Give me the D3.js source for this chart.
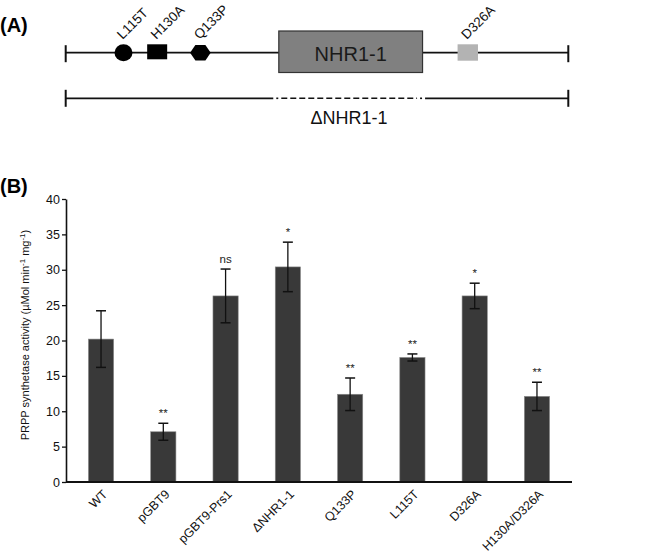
<!DOCTYPE html>
<html>
<head>
<meta charset="utf-8">
<script src="https://cdn.jsdelivr.net/npm/d3@7"></script>
<style>
  body { margin: 0; background: #fff; }
  svg { font-family: Arial, "Liberation Sans", sans-serif; }
</style>
</head>
<body>
<div id="chart-area"></div>
<script>
// Panel B data
var categories = ["WT", "pGBT9", "pGBT9-Prs1", "\u0394NHR1-1", "Q133P", "L115T", "D326A", "H130A/D326A"];
var means = [20.2, 7.1, 26.3, 30.4, 12.4, 17.6, 26.3, 12.1];
var errors = [4.0, 1.2, 3.8, 3.5, 2.3, 0.5, 1.8, 2.0];
var signif = ["", "**", "ns", "*", "**", "**", "*", "**"];
var yTicks = [0, 5, 10, 15, 20, 25, 30, 35, 40];

// Panel A schematic (positions in schematic units 0-100)
var mutNames = ["L115T", "H130A", "Q133P", "D326A"];
var mutShapes = ["circle", "square", "hexagon", "graysquare"];
var mutPos = [11.5, 18.2, 26.8, 80.0];
var domainName = "NHR1-1";
var domainSpan = [42.4, 71.0];
var deletionName = "\u0394NHR1-1";
var deletionSpan = [41.3, 71.5];

var W = 649, H = 557;
var svg = d3.select("#chart-area").append("svg")
    .attr("width", W)
    .attr("height", H);

// ---------- Panel A ----------
var sx = d3.scaleLinear().domain([0, 100]).range([65.7, 568.3]);
var lineY = 52.7, delY = 98.3;

svg.append("text")
    .attr("x", 0).attr("y", 32)
    .style("font-size", "20px").style("font-weight", "bold")
    .text("(A)");

var gA = svg.append("g");

// protein line
gA.append("line")
    .attr("x1", sx(0)).attr("x2", sx(100))
    .attr("y1", lineY).attr("y2", lineY)
    .attr("stroke", "#111").attr("stroke-width", 1.8);
[0, 100].forEach(function(v) {
    gA.append("line")
        .attr("x1", sx(v)).attr("x2", sx(v))
        .attr("y1", lineY - 7.5).attr("y2", lineY + 9.5)
        .attr("stroke", "#111").attr("stroke-width", 2);
});

// NHR1-1 box
gA.append("rect")
    .attr("x", sx(domainSpan[0]))
    .attr("y", 31)
    .attr("width", sx(domainSpan[1]) - sx(domainSpan[0]))
    .attr("height", 41.5)
    .attr("fill", "#808080")
    .attr("stroke", "#333").attr("stroke-width", 1.2);
gA.append("text")
    .attr("x", (sx(domainSpan[0]) + sx(domainSpan[1])) / 2)
    .attr("y", 60.5)
    .attr("text-anchor", "middle")
    .style("font-size", "20px")
    .attr("fill", "#1a1a1a")
    .text(domainName);

// mutation markers
mutPos.forEach(function(p, i) {
    var cx = sx(p), shape = mutShapes[i];
    if (shape === "circle") {
        gA.append("ellipse").attr("cx", cx).attr("cy", lineY)
            .attr("rx", 9).attr("ry", 8.5).attr("fill", "#000");
    } else if (shape === "square") {
        gA.append("rect").attr("x", cx - 10).attr("y", 44.3)
            .attr("width", 20).attr("height", 15).attr("fill", "#000");
    } else if (shape === "hexagon") {
        var pts = [[-10.3, 0], [-5, -7.8], [5, -7.8], [10.3, 0], [5, 7.8], [-5, 7.8]]
            .map(function(d) { return (cx + d[0]) + "," + (lineY + d[1]); }).join(" ");
        gA.append("polygon").attr("points", pts).attr("fill", "#000");
    } else {
        gA.append("rect").attr("x", cx - 10.2).attr("y", 44.3)
            .attr("width", 20.4).attr("height", 16.4).attr("fill", "#b3b3b3");
    }
    gA.append("text")
        .attr("transform", "translate(" + (cx - 1) + "," + 40 + ") rotate(-45)")
        .style("font-size", "13.5px")
        .attr("fill", "#111")
        .text(mutNames[i]);
});

// deletion construct line: solid ends, dashed deleted part with a dot at each end
var d0 = sx(deletionSpan[0]), d1 = sx(deletionSpan[1]);
gA.append("line")
    .attr("x1", sx(0)).attr("x2", d0)
    .attr("y1", delY).attr("y2", delY)
    .attr("stroke", "#111").attr("stroke-width", 1.8);
gA.append("line")
    .attr("x1", d0 + 3).attr("x2", d0 + 5)
    .attr("y1", delY).attr("y2", delY)
    .attr("stroke", "#111").attr("stroke-width", 1.6);
gA.append("line")
    .attr("x1", d0 + 8).attr("x2", d1 - 8)
    .attr("y1", delY).attr("y2", delY)
    .attr("stroke", "#111").attr("stroke-width", 1.6)
    .attr("stroke-dasharray", "6,3");
gA.append("line")
    .attr("x1", d1 - 5).attr("x2", d1 - 3)
    .attr("y1", delY).attr("y2", delY)
    .attr("stroke", "#111").attr("stroke-width", 1.6);
gA.append("line")
    .attr("x1", d1).attr("x2", sx(100))
    .attr("y1", delY).attr("y2", delY)
    .attr("stroke", "#111").attr("stroke-width", 1.8);
[0, 100].forEach(function(v) {
    gA.append("line")
        .attr("x1", sx(v)).attr("x2", sx(v))
        .attr("y1", delY - 8.5).attr("y2", delY + 8.5)
        .attr("stroke", "#111").attr("stroke-width", 2);
});
gA.append("text")
    .attr("x", 349)
    .attr("y", 124)
    .attr("text-anchor", "middle")
    .style("font-size", "18px")
    .attr("fill", "#111")
    .text(deletionName);

// ---------- Panel B ----------
svg.append("text")
    .attr("x", 0).attr("y", 193)
    .style("font-size", "20px").style("font-weight", "bold")
    .text("(B)");

var x = d3.scaleBand()
    .domain(categories)
    .range([66, 572])
    .paddingInner(0.595)
    .paddingOuter(0.36);

var y = d3.scaleLinear()
    .domain([0, 40])
    .range([482, 199]);

var gB = svg.append("g");

// bars
gB.selectAll("rect.bar")
    .data(categories)
    .enter().append("rect")
    .attr("class", "bar")
    .attr("x", function(d) { return x(d); })
    .attr("y", function(d, i) { return y(means[i]); })
    .attr("width", x.bandwidth())
    .attr("height", function(d, i) { return y(0) - y(means[i]); })
    .attr("fill", "#393939")
    .attr("stroke", "#8a8a8a")
    .attr("stroke-width", 0.6);

// error bars
var eb = gB.selectAll("g.err")
    .data(categories)
    .enter().append("g")
    .attr("class", "err")
    .attr("transform", function(d) { return "translate(" + (x(d) + x.bandwidth() / 2) + ",0)"; });

eb.append("line")
    .attr("y1", function(d, i) { return y(means[i] - errors[i]); })
    .attr("y2", function(d, i) { return y(means[i] + errors[i]); })
    .attr("stroke", "#111").attr("stroke-width", 1.3);
eb.append("line")
    .attr("x1", -5).attr("x2", 5)
    .attr("y1", function(d, i) { return y(means[i] + errors[i]); })
    .attr("y2", function(d, i) { return y(means[i] + errors[i]); })
    .attr("stroke", "#111").attr("stroke-width", 1.5);
eb.append("line")
    .attr("x1", -5).attr("x2", 5)
    .attr("y1", function(d, i) { return y(means[i] - errors[i]); })
    .attr("y2", function(d, i) { return y(means[i] - errors[i]); })
    .attr("stroke", "#111").attr("stroke-width", 1.5);

// significance marks
eb.append("text")
    .attr("y", function(d, i) { return y(means[i] + errors[i]) - 6; })
    .attr("text-anchor", "middle")
    .style("font-size", "11.5px")
    .attr("fill", "#222")
    .text(function(d, i) { return signif[i]; });

// y axis
var yAxis = gB.append("g")
    .attr("transform", "translate(66,0)")
    .call(d3.axisLeft(y).tickValues(yTicks).tickSize(4).tickSizeOuter(0).tickPadding(2));
yAxis.select(".domain").attr("stroke", "#111").attr("stroke-width", 1.6);
yAxis.selectAll(".tick line").attr("stroke", "#111").attr("stroke-width", 1.3);
yAxis.selectAll(".tick text")
    .style("font-size", "12.5px")
    .style("font-family", "Arial, 'Liberation Sans', sans-serif")
    .attr("fill", "#111");

// x axis
var xAxis = gB.append("g")
    .attr("transform", "translate(0,482)")
    .call(d3.axisBottom(x).tickSize(0).tickSizeOuter(0));
xAxis.select(".domain")
    .attr("d", "M66,0H572")
    .attr("stroke", "#111").attr("stroke-width", 1.8);
xAxis.selectAll(".tick text")
    .attr("x", 0).attr("y", 0).attr("dy", 0)
    .attr("text-anchor", "end")
    .attr("transform", "translate(7,13) rotate(-45)")
    .style("font-size", "12.5px")
    .style("font-family", "Arial, 'Liberation Sans', sans-serif")
    .attr("fill", "#111");

// y axis label with superscripts
var yl = gB.append("text")
    .attr("transform", "translate(29,335) rotate(-90)")
    .attr("text-anchor", "middle")
    .style("font-size", "11px")
    .attr("fill", "#111");
yl.append("tspan").text("PRPP synthetase activity (\u00b5Mol min");
yl.append("tspan").attr("dy", -4).style("font-size", "8px").text("-1");
yl.append("tspan").attr("dy", 4).text(" mg");
yl.append("tspan").attr("dy", -4).style("font-size", "8px").text("-1");
yl.append("tspan").attr("dy", 4).text(")");
</script>
</body>
</html>
